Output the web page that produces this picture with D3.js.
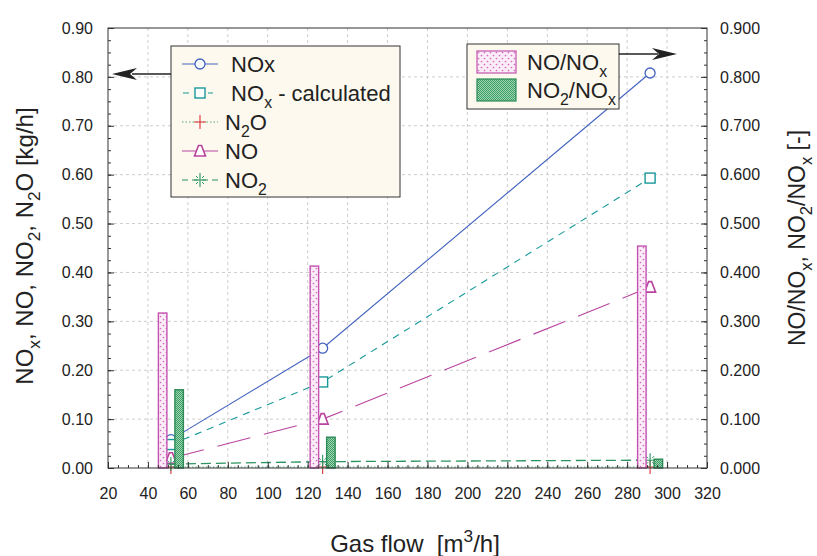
<!DOCTYPE html>
<html>
<head>
<meta charset="utf-8">
<script src="https://cdn.jsdelivr.net/npm/d3@7"></script>
<style>
  html, body { margin: 0; padding: 0; background: #fff; }
  svg { display: block; font-family: "Liberation Sans", Arial, sans-serif; }
  text { white-space: pre; fill: #222; }
</style>
</head>
<body>
<main></main>
<script>
'use strict';

// gas flow of the three measurement points [m3/h]
const gasFlow = [51.5, 127.5, 291.5];

// left axis series [kg/h]
const noxMeasured = [0.058, 0.245, 0.808];
const noxCalculated = [0.048, 0.176, 0.593];
const n2o = [0.002, 0.002, 0.002];
const no = [0.020, 0.100, 0.370];
const no2 = [0.008, 0.013, 0.016];

// right axis ratios [-]
const noRatio = [0.317, 0.413, 0.454];
const no2Ratio = [0.160, 0.063, 0.018];

const xTicks = [20, 40, 60, 80, 100, 120, 140, 160, 180, 200, 220, 240, 260, 280, 300, 320];
const yTicks = [0, 0.1, 0.2, 0.3, 0.4, 0.5, 0.6, 0.7, 0.8, 0.9];

const margin = {top: 28, right: 110, bottom: 88, left: 108},
  width = 817 - margin.left - margin.right,
  height = 556 - margin.top - margin.bottom;

const svg = d3.select('main')
  .append('svg')
  .attr('width', 817)
  .attr('height', 556);

const defs = svg.append('defs');

// dotted pink fill for NO/NOx
const pinkPat = defs.append('pattern')
  .attr('id', 'pinkDots')
  .attr('patternUnits', 'userSpaceOnUse')
  .attr('width', 6).attr('height', 6);
pinkPat.append('rect').attr('width', 6).attr('height', 6).attr('fill', '#fbedf7');
pinkPat.append('circle').attr('cx', 1.5).attr('cy', 1.5).attr('r', 0.85).attr('fill', '#d468c2');
pinkPat.append('circle').attr('cx', 4.5).attr('cy', 4.5).attr('r', 0.85).attr('fill', '#d468c2');

// checkered green fill for NO2/NOx
const greenPat = defs.append('pattern')
  .attr('id', 'greenCheck')
  .attr('patternUnits', 'userSpaceOnUse')
  .attr('width', 2).attr('height', 2);
greenPat.append('rect').attr('width', 2).attr('height', 2).attr('fill', '#9fd3b1');
greenPat.append('rect').attr('width', 1).attr('height', 1).attr('fill', '#3c9f68');
greenPat.append('rect').attr('x', 1).attr('y', 1).attr('width', 1).attr('height', 1).attr('fill', '#3c9f68');

const x = d3.scaleLinear().domain([20, 320]).range([margin.left, margin.left + width]);
const y = d3.scaleLinear().domain([0, 0.9]).range([margin.top + height, margin.top]);
const yR = d3.scaleLinear().domain([0, 0.9]).range([margin.top + height, margin.top]);

// text with _{sub} and ^{sup} parts
const rich = (sel, str, fs) => {
  let off = 0;
  str.match(/[_^]\{[^}]*\}|[^_^]+/g).forEach(p => {
    let target = 0, size = fs, t = p;
    if (p[0] === '_') { target = 0.3 * fs; size = 0.72 * fs; t = p.slice(2, -1); }
    else if (p[0] === '^') { target = -0.42 * fs; size = 0.72 * fs; t = p.slice(2, -1); }
    sel.append('tspan').attr('dy', target - off).attr('font-size', size).text(t);
    off = target;
  });
  return sel;
};

// grid
const grid = svg.append('g').attr('stroke', '#cdcdcd').attr('stroke-dasharray', '3,3');
grid.selectAll('.gx').data(xTicks.slice(1, -1)).enter().append('line')
  .attr('x1', d => x(d)).attr('x2', d => x(d))
  .attr('y1', margin.top).attr('y2', margin.top + height);
grid.selectAll('.gy').data(yTicks.slice(1, -1)).enter().append('line')
  .attr('x1', margin.left).attr('x2', margin.left + width)
  .attr('y1', d => y(d)).attr('y2', d => y(d));

const styles = {
  nox: {color: '#4262bf', dash: null, marker: 'circle', width: 1.1},
  noxCalc: {color: '#17999a', dash: '7,6', marker: 'square', width: 1.1},
  n2o: {color: '#55ad77', dash: '1.5,2', marker: 'plus', width: 1.1},
  no: {color: '#b9449f', dash: '34,14', marker: 'triangle', width: 1.1},
  no2: {color: '#2a9460', dash: '10,5', marker: 'star', width: 1.3}
};

const series = [
  {key: 'nox', values: noxMeasured},
  {key: 'noxCalc', values: noxCalculated},
  {key: 'n2o', values: n2o},
  {key: 'no', values: no},
  {key: 'no2', values: no2}
];

const drawMarker = (g, type, color) => {
  if (type === 'circle') {
    g.append('circle').attr('r', 5).attr('fill', '#fff').attr('stroke', color).attr('stroke-width', 1.3);
  } else if (type === 'square') {
    g.append('rect').attr('x', -5).attr('y', -5).attr('width', 10).attr('height', 10)
      .attr('fill', '#fff').attr('stroke', color).attr('stroke-width', 1.4);
  } else if (type === 'triangle') {
    g.append('path').attr('d', 'M-1.5,-5.5H1.5L5.5,5H-5.5Z')
      .attr('fill', '#fff').attr('stroke', color).attr('stroke-width', 1.6);
  } else if (type === 'plus') {
    g.append('path').attr('d', 'M-6,0H6M0,-7V7').attr('fill', 'none')
      .attr('stroke', '#e0303a').attr('stroke-width', 1.1);
  } else if (type === 'star') {
    g.append('path').attr('d', 'M-6,0H6M0,-7V7').attr('fill', 'none')
      .attr('stroke', color).attr('stroke-width', 1.1);
    g.append('path').attr('d', 'M-4,-4L-2,-2M2,2L4,4M-4,4L-2,2M2,-2L4,-4').attr('fill', 'none')
      .attr('stroke', color).attr('stroke-width', 1);
  }
};

const line = d3.line().x((d, i) => x(gasFlow[i])).y(d => y(d));

const lines = svg.append('g');
series.forEach(s => {
  const st = styles[s.key];
  lines.append('path')
    .datum(s.values)
    .attr('d', line)
    .attr('fill', 'none')
    .attr('stroke', st.color)
    .attr('stroke-width', st.width)
    .attr('stroke-dasharray', st.dash);
});
series.forEach(s => {
  const st = styles[s.key];
  s.values.forEach((v, i) => {
    const g = lines.append('g').attr('transform', `translate(${x(gasFlow[i])},${y(v)})`);
    drawMarker(g, st.marker, st.color);
  });
});

// ratio bars
const barOffset = d3.scaleBand()
  .domain(['noRatio', 'no2Ratio'])
  .range([-12.5, 12.5])
  .paddingInner(0.485);

const barSeries = [
  {key: 'noRatio', values: noRatio, fill: 'url(#pinkDots)', stroke: '#c452b0'},
  {key: 'no2Ratio', values: no2Ratio, fill: 'url(#greenCheck)', stroke: '#2b8a56'}
];

const bars = svg.append('g');
barSeries.forEach(b => {
  bars.selectAll('.bar-' + b.key)
    .data(b.values)
    .enter()
    .append('rect')
    .attr('x', (d, i) => x(gasFlow[i]) + barOffset(b.key))
    .attr('width', barOffset.bandwidth())
    .attr('y', d => yR(d))
    .attr('height', d => yR(0) - yR(d))
    .attr('fill', b.fill)
    .attr('stroke', b.stroke)
    .attr('stroke-width', 1.4);
});

// axes
const minorX = d3.range(20, 320.01, 5);
const minorY = d3.range(0, 0.9001, 0.025);

const styleAxis = g => {
  g.select('.domain').remove();
  g.selectAll('line').attr('stroke', '#333');
  g.selectAll('text').attr('fill', '#1e1e1e').style('font-size', '16px')
    .style('font-family', '"Liberation Sans", Arial, sans-serif');
};

svg.append('g')
  .attr('transform', `translate(0,${margin.top + height})`)
  .call(d3.axisBottom(x).tickValues(minorX).tickSize(-3).tickFormat(''))
  .call(styleAxis);
svg.append('g')
  .attr('transform', `translate(0,${margin.top + height})`)
  .call(d3.axisBottom(x).tickValues(xTicks).tickSize(-6).tickPadding(20).tickFormat(d3.format('d')))
  .call(styleAxis);

svg.append('g')
  .attr('transform', `translate(${margin.left},0)`)
  .call(d3.axisLeft(y).tickValues(minorY).tickSize(-3).tickFormat(''))
  .call(styleAxis);
svg.append('g')
  .attr('transform', `translate(${margin.left},0)`)
  .call(d3.axisLeft(y).tickValues(yTicks).tickSize(-6).tickPadding(15).tickFormat(d3.format('.2f')))
  .call(styleAxis);

svg.append('g')
  .attr('transform', `translate(${margin.left + width},0)`)
  .call(d3.axisRight(yR).tickValues(minorY).tickSize(-3).tickFormat(''))
  .call(styleAxis);
svg.append('g')
  .attr('transform', `translate(${margin.left + width},0)`)
  .call(d3.axisRight(yR).tickValues(yTicks).tickSize(-6).tickPadding(13).tickFormat(d3.format('.3f')))
  .call(styleAxis);

svg.append('rect')
  .attr('x', margin.left).attr('y', margin.top)
  .attr('width', width).attr('height', height)
  .attr('fill', 'none').attr('stroke', '#333').attr('stroke-width', 1);

// axis titles
rich(svg.append('text')
  .attr('transform', 'translate(33,246) rotate(-90)')
  .attr('text-anchor', 'middle')
  .style('font-size', '24px'), 'NO_{x}, NO, NO_{2}, N_{2}O [kg/h]', 24);

rich(svg.append('text')
  .attr('transform', 'translate(805,238) rotate(-90)')
  .attr('text-anchor', 'middle')
  .style('font-size', '23px'), 'NO/NO_{x}, NO_{2}/NO_{x} [-]', 23);

rich(svg.append('text')
  .attr('x', 415).attr('y', 552)
  .attr('text-anchor', 'middle')
  .style('font-size', '24px'), 'Gas flow  [m^{3}/h]', 24);

// legend for the left axis
const leg1 = {x: 171, y: 46, w: 229, h: 151};
const legend1 = svg.append('g');
legend1.append('rect')
  .attr('x', leg1.x).attr('y', leg1.y).attr('width', leg1.w).attr('height', leg1.h)
  .attr('fill', '#fdf9ee').attr('stroke', '#333').attr('stroke-width', 1);

const legendLabels = {
  nox: ' NOx',
  noxCalc: ' NO_{x} - calculated',
  n2o: 'N_{2}O',
  no: 'NO',
  no2: 'NO_{2}'
};

series.forEach((s, i) => {
  const st = styles[s.key];
  const cy = leg1.y + 18 + i * 29;
  legend1.append('line')
    .attr('x1', leg1.x + 11).attr('x2', leg1.x + 47)
    .attr('y1', cy).attr('y2', cy)
    .attr('stroke', st.color).attr('stroke-width', 1.1)
    .attr('stroke-dasharray', s.key === 'no' ? null : (s.key === 'noxCalc' ? '6,6' : (s.key === 'no2' ? '6,4' : st.dash)))
    .attr('stroke-dashoffset', s.key === 'noxCalc' ? -1 : 0);
  const g = legend1.append('g').attr('transform', `translate(${leg1.x + 29},${cy})`);
  if (s.key === 'noxCalc') {
    g.append('rect').attr('x', -8).attr('y', -7).attr('width', 16).attr('height', 14).attr('fill', '#fdf9ee');
  }
  drawMarker(g, st.marker, st.color);
  rich(legend1.append('text')
    .attr('x', leg1.x + 54).attr('y', cy + 8)
    .style('font-size', '22px'), legendLabels[s.key], 22);
});

// arrow from legend 1 to the left axis
legend1.append('line')
  .attr('x1', leg1.x).attr('x2', 132)
  .attr('y1', leg1.y + 28).attr('y2', leg1.y + 28)
  .attr('stroke', '#222').attr('stroke-width', 1.3);
legend1.append('path')
  .attr('d', `M112,${leg1.y + 28}L137,${leg1.y + 22}L130,${leg1.y + 28}L137,${leg1.y + 34}Z`)
  .attr('fill', '#222');

// legend for the right axis
const leg2 = {x: 467, y: 44, w: 152, h: 65};
const legend2 = svg.append('g');
legend2.append('rect')
  .attr('x', leg2.x).attr('y', leg2.y).attr('width', leg2.w).attr('height', leg2.h)
  .attr('fill', '#fdf9ee').attr('stroke', '#333').attr('stroke-width', 1);

const barLabels = {noRatio: 'NO/NO_{x}', no2Ratio: 'NO_{2}/NO_{x}'};
barSeries.forEach((b, i) => {
  const top = leg2.y + 7 + i * 28;
  legend2.append('rect')
    .attr('x', leg2.x + 10).attr('y', top)
    .attr('width', 39).attr('height', 22)
    .attr('fill', b.fill).attr('stroke', b.stroke).attr('stroke-width', 1.2);
  rich(legend2.append('text')
    .attr('x', leg2.x + 60).attr('y', top + 19)
    .style('font-size', '22px'), barLabels[b.key], 22);
});

legend2.append('line')
  .attr('x1', leg2.x + leg2.w).attr('x2', 658)
  .attr('y1', leg2.y + 10).attr('y2', leg2.y + 10)
  .attr('stroke', '#222').attr('stroke-width', 1.3);
legend2.append('path')
  .attr('d', `M677,${leg2.y + 10}L652,${leg2.y + 4}L659,${leg2.y + 10}L652,${leg2.y + 16}Z`)
  .attr('fill', '#222');
</script>
</body>
</html>
